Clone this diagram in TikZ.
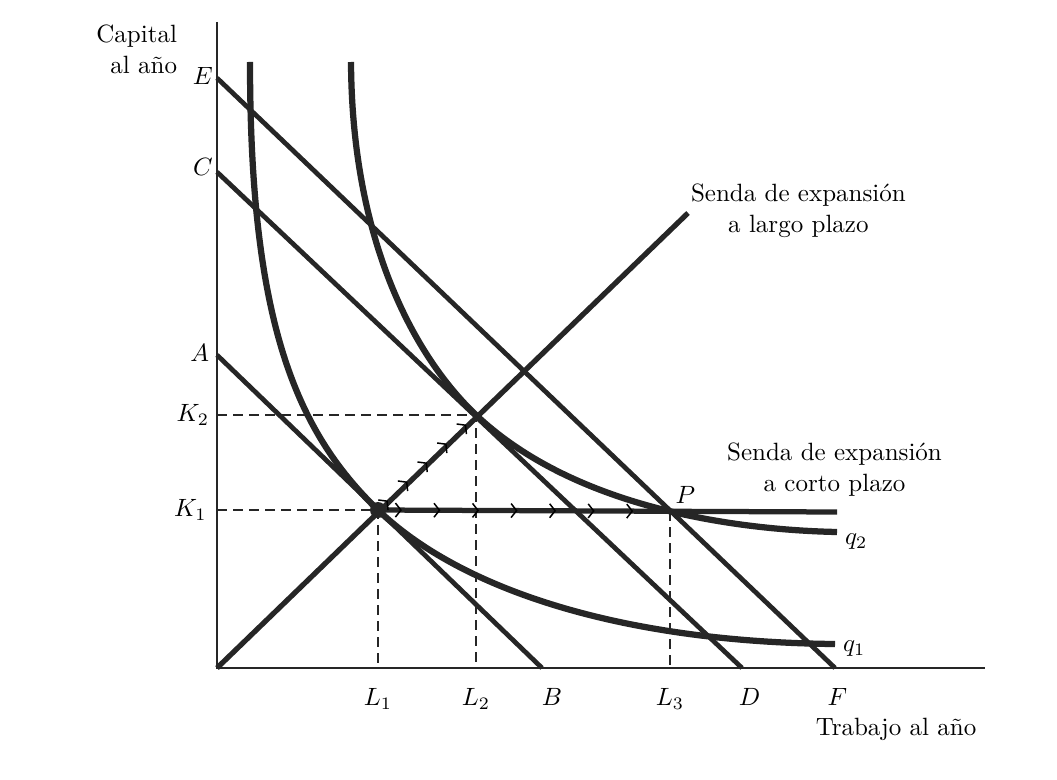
\documentclass[tikz,border=0pt]{standalone}
\usepackage{amsmath}
\usepackage{tikz}
\usetikzlibrary{arrows.meta,positioning,decorations.markings}

\begin{document}
\begin{tikzpicture}[
  x=0.4pt, y=-0.4pt,
  font=\fontsize{10}{12.3}\selectfont,
  axis/.style={draw=black!85, line width=0.7pt},
  cost/.style={draw=black!85, line width=1.9pt},
  isoq/.style={draw=black!85, line width=2.5pt, line cap=butt},
  senda/.style={draw=black!85, line width=2.1pt},
  guide/.style={draw=black!85, line width=0.6pt, dash pattern=on 4pt off 2.4pt},
  lbl/.style={inner sep=1pt},
  chev/.style={postaction={decorate}, decoration={markings,
    mark=between positions #1 with {\arrow{Straight Barb[length=2.2pt,width=5.6pt,line width=0.6pt]}}}}
]
\useasboundingbox (0,0) rectangle (1057,779);

% ejes
\coordinate (O) at (217,668);
\coordinate (Ytop) at (217,22);
\coordinate (Xend) at (985,668);
\draw[axis] (Ytop) -- (O) -- (Xend);

% rectas de isocoste
\coordinate (A) at (217,355);
\coordinate (B) at (542,668);
\coordinate (C) at (217,172);
\coordinate (D) at (742,668);
\coordinate (E) at (217,78);
\coordinate (F) at (835,668);
\draw[cost] (A) -- (B);
\draw[cost] (C) -- (D);
\draw[cost] (E) -- (F);

% puntos de equilibrio
\coordinate (K1) at (378,510);
\coordinate (K2) at (476,415);
\coordinate (P) at (670,511);
\coordinate (T) at (688,213);
\coordinate (S) at (837,512);
\coordinate (L1) at (K1 |- O);
\coordinate (L2) at (K2 |- O);
\coordinate (L3) at (P |- O);

% lineas de trazos
\draw[guide] (K1 -| O) -- (K1) -- (L1);
\draw[guide] (K2 -| O) -- (K2) -- (L2);
\draw[guide] (P) -- (L3);

% isocuantas
\coordinate (Q1top) at (250,62);
\coordinate (Q2top) at (351,62);
\coordinate (Q1end) at (835,644);
\coordinate (Q2end) at (837,532);
\draw[isoq] (Q1top) .. controls (250,320) and (295,430) .. (K1)
  .. controls (460,589) and (620,642) .. (Q1end);
\draw[isoq] (Q2top) .. controls (352,250) and (420,362) .. (K2)
  .. controls (576,509.5) and (740,530) .. (Q2end);

% sendas de expansion
\draw[senda] (O) -- (T);
\draw[senda] (K1) -- (S);
\path[chev={0.1 and 0.95 step 0.2}] (K1) -- (K2);
\path[chev={0.052 and 0.56 step 0.084}] (K1) -- (S);
\fill[black!85] (K1) circle (3.2pt);

% rotulos
\node[lbl, align=right, anchor=east] (ycap) at (180,49) {Capital\\al año};
\node[lbl] (xcap) at (896,729) {Trabajo al año};
\node[lbl, left=0.5pt of E, yshift=1pt] (lE) {$E$};
\node[lbl, left=0.5pt of C, yshift=2pt] (lC) {$C$};
\node[lbl, left=2pt of A, yshift=1pt] (lA) {$A$};
\node[lbl, left=2pt of K2 -| O] (lK2) {$K_2$};
\node[lbl, left=3pt of K1 -| O] (lK1) {$K_1$};
\node[lbl, below=7pt of L1] (lL1) {$L_1$};
\node[lbl, below=7pt of L2] (lL2) {$L_2$};
\node[lbl, below=7pt of L3] (lL3) {$L_3$};
\node[lbl, below=7pt of B, xshift=4pt] (lB) {$B$};
\node[lbl, below=7pt of D, xshift=3pt] (lD) {$D$};
\node[lbl, below=7pt of F, xshift=1pt] (lF) {$F$};
\node[lbl, above right=2pt and 1pt of P] (lP) {$P$};
\node[lbl, right=2pt of Q1end, yshift=-2pt] (lq1) {$q_1$};
\node[lbl, right=2pt of Q2end, yshift=-4pt] (lq2) {$q_2$};
\node[lbl, align=center, right=0pt of T, yshift=1pt] (llargo) {Senda de expansión\\a largo plazo};
\node[lbl, align=center, above=5pt of S, xshift=-1pt] (lcorto) {Senda de expansión\\a corto plazo};
\end{tikzpicture}
\end{document}
